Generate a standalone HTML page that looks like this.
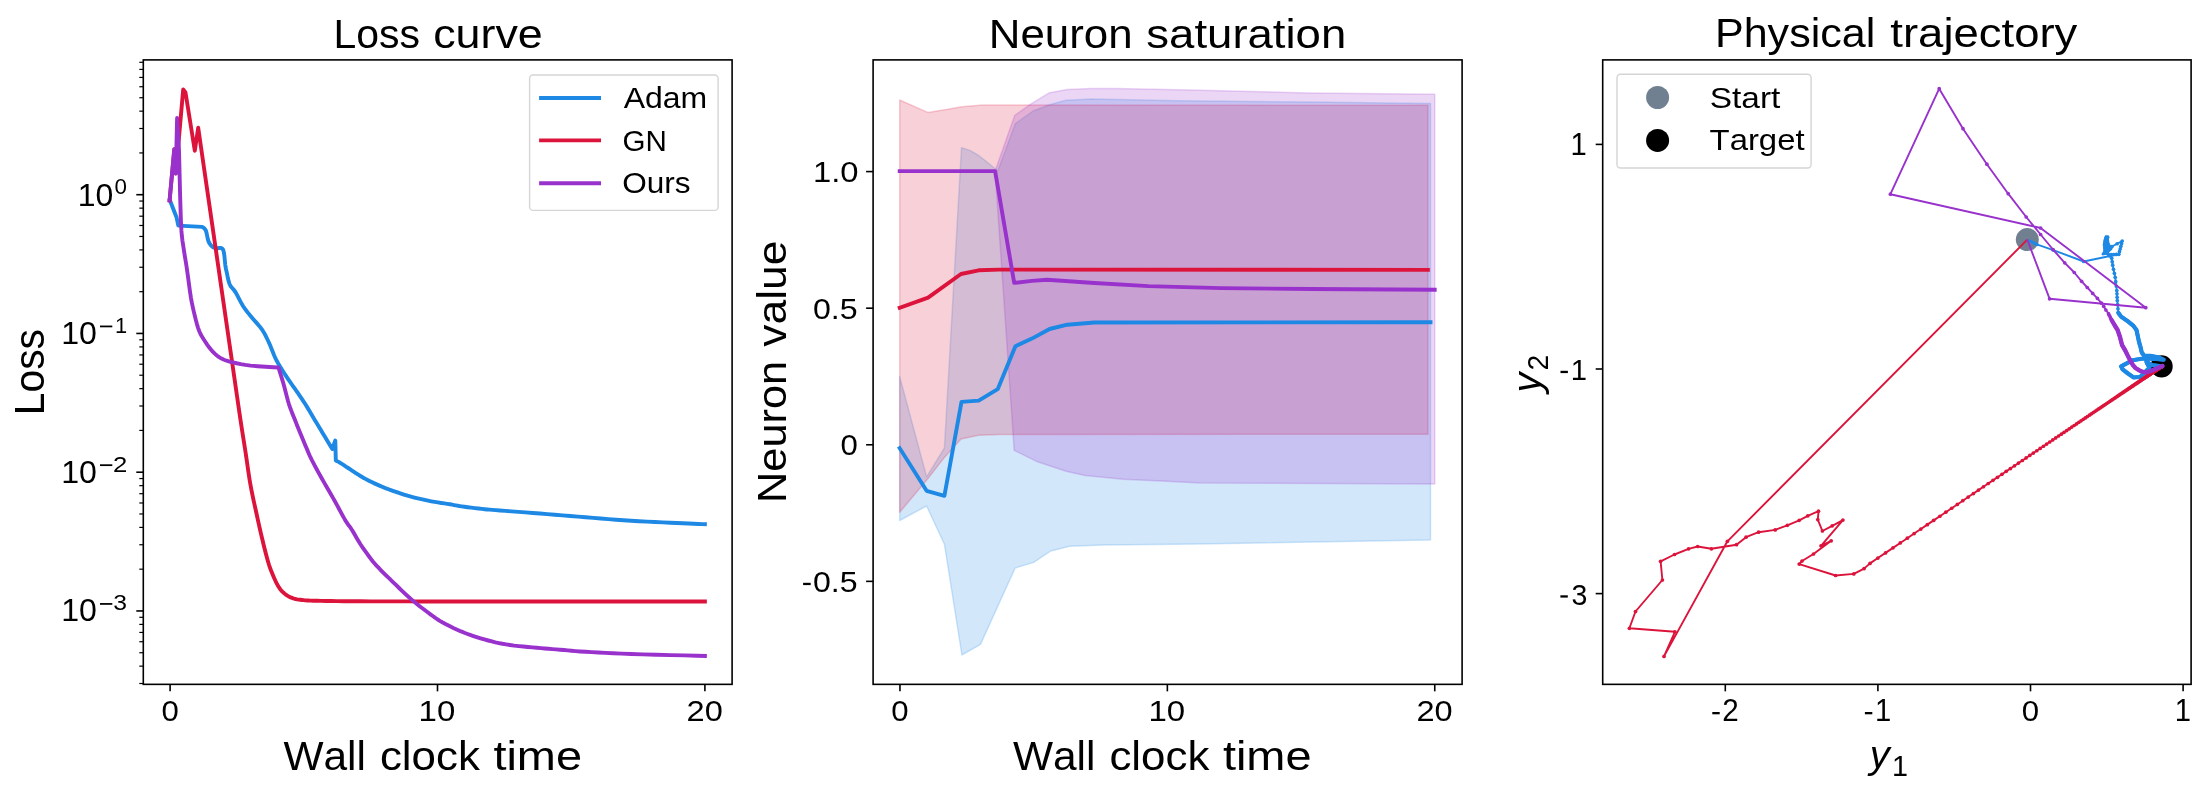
<!DOCTYPE html>
<html><head><meta charset="utf-8"><title>Figure</title>
<style>html,body{margin:0;padding:0;background:#fff;}svg{display:block;will-change:transform;}text{font-kerning:none;font-family:"Liberation Sans",sans-serif;}</style>
</head><body>
<svg width="2212" height="790" viewBox="0 0 2212 790" font-family="Liberation Sans, sans-serif">
<rect width="2212" height="790" fill="#fff"/>
<clipPath id="c1"><rect x="143.3" y="59.9" width="588.8" height="624.45"/></clipPath>
<g clip-path="url(#c1)">
<polyline points="169.9,200.3 176.5,217.2 178.3,225.6 202.2,226.9 202.87,227.36 203.84,227.98 204.89,228.94 205.8,230.4 206.5,232.7 207.1,235.64 207.7,238.64 208.4,241.1 209.21,242.89 210.09,244.31 211.02,245.45 212,246.4 213.02,247.14 214.09,247.63 215.22,247.96 216.4,248.2 217.73,248.22 219.19,248.04 220.57,247.93 221.7,248.2 222.49,248.8 223.04,249.62 223.48,250.83 223.9,252.6 224.31,255.27 224.66,258.65 224.98,262.11 225.3,265 225.59,266.96 225.84,268.39 226.15,269.82 226.6,271.8 227.19,274.66 227.88,278.05 228.7,281.47 229.7,284.4 230.9,286.5 232.27,288.11 233.78,289.77 235.4,292 237.17,295.14 239.08,298.85 241.06,302.63 243,306 244.81,308.7 246.56,311.03 248.43,313.35 250.6,316 253.3,319.16 256.38,322.62 259.41,326.15 262,329.5 264.01,332.68 265.67,335.79 267.1,338.75 268.4,341.5 269.53,343.93 270.44,346.1 271.29,348.2 272.2,350.4 273.12,352.68 274.01,354.96 275.02,357.37 276.3,360 277.95,362.99 279.88,366.24 281.92,369.55 283.9,372.7 285.83,375.68 287.78,378.59 289.69,381.38 291.5,384 293.14,386.34 294.65,388.44 296.16,390.56 297.8,392.9 299.61,395.54 301.52,398.36 303.47,401.3 305.4,404.3 307.3,407.39 309.2,410.58 311.1,413.8 313,417 314.9,420.15 316.8,423.3 318.7,426.45 320.6,429.6 322.58,432.91 324.62,436.32 326.55,439.54 328.2,442.3 329.57,444.55 330.72,446.44 331.65,447.94 332.3,449 335.3,440.5 335.8,460.5 336.2,460.7 336.7,460.94 337.31,461.24 338.07,461.63 338.99,462.14 340.1,462.8 341.46,463.65 343.07,464.68 344.84,465.83 346.69,467.04 348.54,468.25 350.3,469.4 351.99,470.51 353.67,471.64 355.36,472.77 357.04,473.88 358.72,474.96 360.4,476 362.08,476.99 363.77,477.95 365.45,478.87 367.13,479.77 368.82,480.65 370.5,481.5 372.18,482.33 373.86,483.12 375.54,483.89 377.23,484.64 378.91,485.38 380.6,486.1 382.18,486.77 383.62,487.38 385.07,487.98 386.66,488.6 388.52,489.29 390.8,490.1 393.59,491.07 396.79,492.18 400.27,493.36 403.89,494.55 407.51,495.69 411,496.7 414.4,497.6 417.82,498.44 421.24,499.22 424.65,499.96 428.01,500.65 431.3,501.3 434.59,501.9 437.92,502.45 441.2,502.96 444.36,503.43 447.32,503.87 450,504.3 452.23,504.7 454.04,505.05 455.65,505.38 457.28,505.7 459.16,506.04 461.5,506.4 464.4,506.8 467.69,507.24 471.23,507.68 474.86,508.12 478.44,508.53 481.8,508.9 484.7,509.2 487.21,509.45 489.67,509.67 492.4,509.9 495.73,510.16 500,510.5 505.34,510.91 511.51,511.37 518.29,511.86 525.44,512.39 532.76,512.94 540,513.5 547.28,514.09 554.79,514.72 562.46,515.37 570.2,516.03 577.94,516.67 585.6,517.3 593.19,517.92 600.77,518.54 608.35,519.15 615.93,519.74 623.51,520.3 631.1,520.8 638.9,521.25 646.94,521.67 654.98,522.04 662.79,522.39 670.11,522.71 676.7,523 682.73,523.27 688.43,523.52 693.65,523.74 698.23,523.93 702.03,524.08 704.9,524.2" fill="none" stroke="#1E88E5" stroke-width="3.9" stroke-linecap="square" stroke-linejoin="round" />
<polyline points="169.6,200.5 174.3,149.2 175.8,173.5 183.2,89.5 185.5,92.5 194.8,150.8 198.2,127.8 234.7,380 235.34,384.44 236.23,390.67 237.29,398 238.41,405.78 239.51,413.33 240.5,420 241.38,425.78 242.23,431.22 243.05,436.44 243.86,441.56 244.68,446.7 245.5,452 246.32,457.49 247.13,463.07 247.93,468.69 248.75,474.26 249.6,479.72 250.5,485 251.46,490.12 252.48,495.15 253.53,500.06 254.58,504.85 255.61,509.5 256.6,514 257.53,518.3 258.43,522.39 259.31,526.34 260.18,530.22 261.07,534.09 262,538 262.97,542.04 263.97,546.19 264.99,550.31 266.01,554.31 267.02,558.08 268,561.5 268.94,564.53 269.86,567.26 270.76,569.75 271.66,572.07 272.57,574.3 273.5,576.5 274.46,578.68 275.43,580.79 276.41,582.79 277.4,584.68 278.4,586.42 279.4,588 280.39,589.38 281.38,590.57 282.37,591.62 283.38,592.57 284.42,593.45 285.5,594.3 286.61,595.11 287.74,595.86 288.9,596.53 290.1,597.14 291.37,597.7 292.7,598.2 294.1,598.63 295.56,599 297.08,599.3 298.66,599.56 300.3,599.79 302,600 303.57,600.18 304.97,600.32 306.43,600.43 308.19,600.52 310.46,600.61 313.5,600.7 317.18,600.8 321.28,600.89 325.91,600.98 331.16,601.06 337.13,601.14 343.9,601.2 351.83,601.25 360.92,601.29 370.72,601.33 380.8,601.35 390.71,601.38 400,601.4 409.27,601.42 418.97,601.44 428.51,601.46 437.26,601.48 444.63,601.49 450,601.5 704.9,601.5" fill="none" stroke="#DC143C" stroke-width="3.9" stroke-linecap="square" stroke-linejoin="round" />
<polyline points="169.6,200.3 174.3,149.2 175.8,173.5 177.1,118 179,150 180.1,195 180.31,201.77 180.61,211.59 180.98,221.96 181.4,230.4 181.88,236.11 182.41,240.46 182.99,244.23 183.6,248.2 184.27,252.62 184.99,257.07 185.7,261.28 186.3,265 186.72,267.74 187.02,269.77 187.33,272 187.8,275.3 188.47,280.24 189.26,286.24 190.12,292.47 191,298.1 191.89,302.94 192.83,307.43 193.79,311.67 194.8,315.8 195.82,319.89 196.87,323.85 197.98,327.59 199.2,331 200.53,333.96 201.95,336.57 203.47,339.01 205.1,341.5 206.85,344.13 208.72,346.77 210.68,349.3 212.7,351.6 214.75,353.64 216.86,355.49 219.09,357.15 221.5,358.6 224.02,359.79 226.64,360.74 229.55,361.57 232.9,362.4 236.64,363.27 240.72,364.12 245.31,364.91 250.6,365.6 257.51,366.21 265.66,366.75 273.25,367.19 278.5,367.5 279.09,369.42 279.91,372.07 280.88,375.21 281.92,378.62 282.95,382.06 283.9,385.3 284.75,388.43 285.58,391.64 286.39,394.88 287.22,398.11 288.08,401.26 289,404.3 289.99,407.24 291.06,410.13 292.15,412.95 293.24,415.68 294.31,418.3 295.3,420.8 296.21,423.1 297.04,425.19 297.85,427.18 298.66,429.15 299.49,431.19 300.4,433.4 301.39,435.83 302.46,438.41 303.55,441.07 304.64,443.72 305.71,446.26 306.7,448.6 307.56,450.63 308.3,452.4 309,454.06 309.76,455.78 310.66,457.7 311.8,460 313.18,462.68 314.74,465.62 316.44,468.77 318.26,472.09 320.16,475.51 322.1,479 324.17,482.66 326.41,486.55 328.73,490.56 331.04,494.55 333.26,498.4 335.3,502 337.18,505.4 338.96,508.7 340.65,511.87 342.25,514.86 343.77,517.61 345.2,520.1 346.5,522.18 347.64,523.86 348.7,525.31 349.74,526.7 350.82,528.21 352,530 353.3,532.13 354.68,534.47 356.09,536.93 357.52,539.4 358.93,541.79 360.3,544 361.61,546.01 362.88,547.9 364.14,549.71 365.4,551.47 366.68,553.22 368,555 369.28,556.73 370.49,558.36 371.72,559.98 373.07,561.67 374.63,563.51 376.5,565.6 378.73,567.96 381.24,570.53 383.96,573.26 386.83,576.09 389.77,578.95 392.7,581.8 395.7,584.7 398.83,587.73 402.02,590.79 405.23,593.81 408.38,596.71 411.4,599.4 414.31,601.88 417.16,604.21 419.95,606.43 422.69,608.53 425.37,610.55 428,612.5 430.47,614.34 432.76,616.04 434.99,617.66 437.31,619.24 439.83,620.84 442.7,622.5 445.97,624.26 449.54,626.07 453.32,627.91 457.22,629.7 461.14,631.42 465,633 468.83,634.46 472.72,635.83 476.63,637.12 480.54,638.33 484.4,639.46 488.2,640.5 491.86,641.44 495.39,642.29 498.88,643.04 502.41,643.74 506.09,644.38 510,645 514.22,645.58 518.7,646.09 523.31,646.56 527.95,647 532.48,647.41 536.8,647.8 540.85,648.17 544.71,648.49 548.47,648.79 552.22,649.09 556.04,649.38 560,649.7 563.9,650.04 567.62,650.38 571.41,650.73 575.5,651.09 580.15,651.44 585.6,651.8 591.7,652.16 598.24,652.54 605.34,652.91 613.1,653.29 621.65,653.65 631.1,654 642.62,654.36 656.34,654.73 670.84,655.09 684.72,655.42 696.54,655.7 704.9,655.9" fill="none" stroke="#9932CC" stroke-width="3.9" stroke-linecap="square" stroke-linejoin="round" />
</g>
<rect x="143.3" y="59.9" width="588.8" height="624.45" fill="none" stroke="#000" stroke-width="1.6" stroke-linejoin="miter"/>
<line x1="170.1" y1="684.35" x2="170.1" y2="691.35" stroke="#000" stroke-width="1.6"/>
<text transform="translate(161.43,720.71) scale(1.0361,1)" font-size="30.084" style="" fill="#000">0</text>
<line x1="437.5" y1="684.35" x2="437.5" y2="691.35" stroke="#000" stroke-width="1.6"/>
<text transform="translate(418.54,720.71) scale(1.0968,1)" font-size="30.084" style="" fill="#000">10</text>
<line x1="704.9" y1="684.35" x2="704.9" y2="691.35" stroke="#000" stroke-width="1.6"/>
<text transform="translate(686.61,720.71) scale(1.0821,1)" font-size="30.084" style="" fill="#000">20</text>
<line x1="136.3" y1="194.7" x2="143.3" y2="194.7" stroke="#000" stroke-width="1.6"/>
<line x1="136.3" y1="333.45" x2="143.3" y2="333.45" stroke="#000" stroke-width="1.6"/>
<line x1="136.3" y1="472.2" x2="143.3" y2="472.2" stroke="#000" stroke-width="1.6"/>
<line x1="136.3" y1="610.95" x2="143.3" y2="610.95" stroke="#000" stroke-width="1.6"/>
<line x1="139.3" y1="683.5" x2="143.3" y2="683.5" stroke="#000" stroke-width="1.2"/>
<line x1="139.3" y1="666.16" x2="143.3" y2="666.16" stroke="#000" stroke-width="1.2"/>
<line x1="139.3" y1="652.72" x2="143.3" y2="652.72" stroke="#000" stroke-width="1.2"/>
<line x1="139.3" y1="641.73" x2="143.3" y2="641.73" stroke="#000" stroke-width="1.2"/>
<line x1="139.3" y1="632.44" x2="143.3" y2="632.44" stroke="#000" stroke-width="1.2"/>
<line x1="139.3" y1="624.4" x2="143.3" y2="624.4" stroke="#000" stroke-width="1.2"/>
<line x1="139.3" y1="617.3" x2="143.3" y2="617.3" stroke="#000" stroke-width="1.2"/>
<line x1="139.3" y1="569.18" x2="143.3" y2="569.18" stroke="#000" stroke-width="1.2"/>
<line x1="139.3" y1="544.75" x2="143.3" y2="544.75" stroke="#000" stroke-width="1.2"/>
<line x1="139.3" y1="527.41" x2="143.3" y2="527.41" stroke="#000" stroke-width="1.2"/>
<line x1="139.3" y1="513.97" x2="143.3" y2="513.97" stroke="#000" stroke-width="1.2"/>
<line x1="139.3" y1="502.98" x2="143.3" y2="502.98" stroke="#000" stroke-width="1.2"/>
<line x1="139.3" y1="493.69" x2="143.3" y2="493.69" stroke="#000" stroke-width="1.2"/>
<line x1="139.3" y1="485.65" x2="143.3" y2="485.65" stroke="#000" stroke-width="1.2"/>
<line x1="139.3" y1="478.55" x2="143.3" y2="478.55" stroke="#000" stroke-width="1.2"/>
<line x1="139.3" y1="430.43" x2="143.3" y2="430.43" stroke="#000" stroke-width="1.2"/>
<line x1="139.3" y1="406" x2="143.3" y2="406" stroke="#000" stroke-width="1.2"/>
<line x1="139.3" y1="388.66" x2="143.3" y2="388.66" stroke="#000" stroke-width="1.2"/>
<line x1="139.3" y1="375.22" x2="143.3" y2="375.22" stroke="#000" stroke-width="1.2"/>
<line x1="139.3" y1="364.23" x2="143.3" y2="364.23" stroke="#000" stroke-width="1.2"/>
<line x1="139.3" y1="354.94" x2="143.3" y2="354.94" stroke="#000" stroke-width="1.2"/>
<line x1="139.3" y1="346.9" x2="143.3" y2="346.9" stroke="#000" stroke-width="1.2"/>
<line x1="139.3" y1="339.8" x2="143.3" y2="339.8" stroke="#000" stroke-width="1.2"/>
<line x1="139.3" y1="291.68" x2="143.3" y2="291.68" stroke="#000" stroke-width="1.2"/>
<line x1="139.3" y1="267.25" x2="143.3" y2="267.25" stroke="#000" stroke-width="1.2"/>
<line x1="139.3" y1="249.91" x2="143.3" y2="249.91" stroke="#000" stroke-width="1.2"/>
<line x1="139.3" y1="236.47" x2="143.3" y2="236.47" stroke="#000" stroke-width="1.2"/>
<line x1="139.3" y1="225.48" x2="143.3" y2="225.48" stroke="#000" stroke-width="1.2"/>
<line x1="139.3" y1="216.19" x2="143.3" y2="216.19" stroke="#000" stroke-width="1.2"/>
<line x1="139.3" y1="208.15" x2="143.3" y2="208.15" stroke="#000" stroke-width="1.2"/>
<line x1="139.3" y1="201.05" x2="143.3" y2="201.05" stroke="#000" stroke-width="1.2"/>
<line x1="139.3" y1="152.93" x2="143.3" y2="152.93" stroke="#000" stroke-width="1.2"/>
<line x1="139.3" y1="128.5" x2="143.3" y2="128.5" stroke="#000" stroke-width="1.2"/>
<line x1="139.3" y1="111.16" x2="143.3" y2="111.16" stroke="#000" stroke-width="1.2"/>
<line x1="139.3" y1="97.72" x2="143.3" y2="97.72" stroke="#000" stroke-width="1.2"/>
<line x1="139.3" y1="86.73" x2="143.3" y2="86.73" stroke="#000" stroke-width="1.2"/>
<line x1="139.3" y1="77.44" x2="143.3" y2="77.44" stroke="#000" stroke-width="1.2"/>
<line x1="139.3" y1="69.4" x2="143.3" y2="69.4" stroke="#000" stroke-width="1.2"/>
<line x1="139.3" y1="62.3" x2="143.3" y2="62.3" stroke="#000" stroke-width="1.2"/>
<text transform="translate(77.66,205.6) scale(1.0391,1)" font-size="30.791" style="" fill="#000">10</text>
<text transform="translate(114.53,194.49) scale(1.0291,1)" font-size="21.751" style="" fill="#000">0</text>
<text transform="translate(61.16,343.95) scale(1.0520,1)" font-size="30.508" style="" fill="#000">10</text>
<rect x="100" y="325.55" width="12.3" height="1.75" fill="#000"/>
<text transform="translate(114.94,333.15) scale(0.9868,1)" font-size="22.093" style="" fill="#000">1</text>
<text transform="translate(61.16,482.7) scale(1.0520,1)" font-size="30.508" style="" fill="#000">10</text>
<rect x="100" y="464.3" width="12.3" height="1.75" fill="#000"/>
<text transform="translate(113.01,471.9) scale(1.1798,1)" font-size="21.769" style="" fill="#000">2</text>
<text transform="translate(61.16,621.45) scale(1.0520,1)" font-size="30.508" style="" fill="#000">10</text>
<rect x="100" y="603.05" width="12.3" height="1.75" fill="#000"/>
<text transform="translate(113.36,610.44) scale(1.1495,1)" font-size="21.469" style="" fill="#000">3</text>
<text transform="translate(333.44,47.6) scale(0.9961,1)" font-size="41.132">Loss</text>
<text transform="translate(433.2,47.6) scale(1.0896,1)" font-size="41.132">curve</text>
<text transform="translate(283.41,770.3) scale(1.0355,1)" font-size="40.987">Wall</text>
<text transform="translate(379.94,770.3) scale(1.0698,1)" font-size="40.987">clock</text>
<text transform="translate(493.39,770.3) scale(1.1455,1)" font-size="40.987">time</text>
<text transform="translate(44.39,415.14) rotate(-90) scale(0.9610,1)" font-size="42.422" style="">Loss</text>
<rect x="529.6" y="75.0" width="188.5" height="135.4" rx="3.5" fill="#fff" fill-opacity="0.8" stroke="#d5d5d5" stroke-width="1.4"/>
<line x1="539.1" y1="98" x2="601" y2="98" stroke="#1E88E5" stroke-width="3.9"/>
<line x1="539.1" y1="140.4" x2="601" y2="140.4" stroke="#DC143C" stroke-width="3.9"/>
<line x1="539.1" y1="183.3" x2="601" y2="183.3" stroke="#9932CC" stroke-width="3.9"/>
<text transform="translate(623.64,108.41) scale(1.0827,1)" font-size="29.549" style="" fill="#000">Adam</text>
<text transform="translate(622.41,150.91) scale(0.9886,1)" font-size="29.943" style="" fill="#000">GN</text>
<text transform="translate(622.2,193.21) scale(1.0699,1)" font-size="29.519" style="" fill="#000">Ours</text>
<clipPath id="c2"><rect x="873.1" y="59.9" width="588.9999999999999" height="624.45"/></clipPath>
<g clip-path="url(#c2)">
<polygon points="899.7,376.6 926.6,476.8 944.4,448 961.5,147.6 970.4,150.6 978.7,155.5 988.6,163.3 997.7,171 1015.3,123.7 1033,111 1049.5,104.7 1066,100.3 1091.3,99 1180,100.8 1309,102 1430.5,103.5 1430.5,540.1 1200,544 1103.9,544.9 1069.7,546.3 1050.8,551 1033.7,562.4 1015.1,568.1 980.5,644.4 961.9,655 944.4,544.2 926.6,506 899.7,520.5" fill="#1E88E5" fill-opacity="0.2" stroke="#1E88E5" stroke-opacity="0.2" stroke-width="1.5" stroke-linejoin="round"/>
<polygon points="899.7,100 927.8,112.4 946.1,109.6 962,106.7 982.5,105.1 1428,105.3 1428,434.3 999,434.5 978.7,435.3 961,439 944.4,457.4 928,478.5 899.7,512.3" fill="#DC143C" fill-opacity="0.2" stroke="#DC143C" stroke-opacity="0.2" stroke-width="1.5" stroke-linejoin="round"/>
<polygon points="995.1,171.1 1014.7,115.4 1031.8,103.4 1049.5,92.7 1067.2,89.5 1091.3,88.6 1116.6,88.6 1190,90.1 1309.3,92.9 1434.8,94.3 1434.8,484.1 1200,482.9 1160.9,481.1 1122.9,479.2 1085,475.4 1066,471.3 1037.5,461.8 1014.2,450.4" fill="#9932CC" fill-opacity="0.2" stroke="#9932CC" stroke-opacity="0.2" stroke-width="1.5" stroke-linejoin="round"/>
<polyline points="899.7,448.2 926.6,490.8 944.4,495.8 961.5,401.9 978.7,400.6 997.7,389.2 1015.4,346.2 1031.9,338.6 1049.6,329 1067.3,324.7 1094.2,322.5 1430.5,322.2" fill="none" stroke="#1E88E5" stroke-width="3.9" stroke-linecap="square" stroke-linejoin="round" />
<polyline points="899.7,307.8 928.1,297.6 961,274 978.7,270.3 999,269.6 1427.9,269.9" fill="none" stroke="#DC143C" stroke-width="3.9" stroke-linecap="square" stroke-linejoin="round" />
<polyline points="899.7,171.1 995.1,171.1 1014.2,282.9 1031.9,280.9 1047.1,279.7 1094.2,283 1148.5,286.1 1220.8,288.1 1311.2,289 1434.7,289.7" fill="none" stroke="#9932CC" stroke-width="3.9" stroke-linecap="square" stroke-linejoin="round" />
</g>
<rect x="873.1" y="59.9" width="589" height="624.45" fill="none" stroke="#000" stroke-width="1.6" stroke-linejoin="miter"/>
<line x1="899.95" y1="684.35" x2="899.95" y2="691.35" stroke="#000" stroke-width="1.6"/>
<text transform="translate(891.28,720.71) scale(1.0361,1)" font-size="30.084" style="" fill="#000">0</text>
<line x1="1167.35" y1="684.35" x2="1167.35" y2="691.35" stroke="#000" stroke-width="1.6"/>
<text transform="translate(1148.39,720.71) scale(1.0968,1)" font-size="30.084" style="" fill="#000">10</text>
<line x1="1434.75" y1="684.35" x2="1434.75" y2="691.35" stroke="#000" stroke-width="1.6"/>
<text transform="translate(1416.46,720.71) scale(1.0821,1)" font-size="30.084" style="" fill="#000">20</text>
<line x1="866.1" y1="171.59" x2="873.1" y2="171.59" stroke="#000" stroke-width="1.6"/>
<line x1="866.1" y1="308.18" x2="873.1" y2="308.18" stroke="#000" stroke-width="1.6"/>
<line x1="866.1" y1="444.77" x2="873.1" y2="444.77" stroke="#000" stroke-width="1.6"/>
<line x1="866.1" y1="581.36" x2="873.1" y2="581.36" stroke="#000" stroke-width="1.6"/>
<text transform="translate(813,182) scale(1.0797,1)" font-size="30.367" style="" fill="#000">1.0</text>
<text transform="translate(812.95,318.61) scale(1.0715,1)" font-size="29.943" style="" fill="#000">0.5</text>
<text transform="translate(840.58,455.41) scale(1.0361,1)" font-size="30.084" style="" fill="#000">0</text>
<text transform="translate(812.95,591.6) scale(1.0565,1)" font-size="30.367" style="" fill="#000">0.5</text>
<rect x="803.1" y="582.8" width="7.6" height="2.3" fill="#000"/>
<text transform="translate(988.8,47.5) scale(1.0736,1)" font-size="40.851">Neuron</text>
<text transform="translate(1146.33,47.5) scale(1.1144,1)" font-size="40.851">saturation</text>
<text transform="translate(1012.91,770.3) scale(1.0355,1)" font-size="40.987">Wall</text>
<text transform="translate(1109.44,770.3) scale(1.0698,1)" font-size="40.987">clock</text>
<text transform="translate(1222.89,770.3) scale(1.1455,1)" font-size="40.987">time</text>
<text transform="translate(785.7,502.96) rotate(-90) scale(1.0576,1)" font-size="40.987">Neuron</text>
<text transform="translate(785.7,346.65) rotate(-90) scale(1.0820,1)" font-size="40.987">value</text>
<clipPath id="c3"><rect x="1602.7" y="59.9" width="588.3999999999999" height="624.45"/></clipPath>
<g clip-path="url(#c3)">
<circle cx="2027.3" cy="239.6" r="11.5" fill="#708090"/>
<circle cx="2161.6" cy="366.4" r="11.1" fill="#000"/>
<polyline points="2027.3,239.6 2031,241.5 2034,243 2036.8,244.4 2053.3,250.1 2083.7,261.5 2110,256 2108.67,254.67 2107.33,253.33 2106,252 2105.62,250.25 2105.25,248.5 2104.88,246.75 2104.5,245 2104.88,243.25 2105.25,241.5 2105.62,239.75 2106,238 2106.67,240 2107.33,242 2108,244 2109.25,246 2110.5,248 2112,246.5 2117.1,243.75 2122.2,241 2121.52,243.66 2120.84,246.32 2120.16,248.98 2119.48,251.64 2118.8,254.3 2116.27,254.43 2113.73,254.57 2111.2,254.7 2111.7,258.2 2112.2,261.7 2112.7,265.2 2113.53,269.23 2114.37,273.27 2115.2,277.3 2115.73,281.7 2116.27,286.1 2116.8,290.5 2116.97,293.87 2117.13,297.23 2117.3,300.6 2117.63,304.67 2117.97,308.73 2118.3,312.8 2119.3,314.13 2120.3,315.47 2121.3,316.8 2122.52,317.62 2123.74,318.44 2124.96,319.26 2126.18,320.08 2127.4,320.9 2128.62,321.9 2129.84,322.9 2131.06,323.9 2132.28,324.9 2133.5,325.9 2134.5,327.27 2135.5,328.63 2136.5,330 2136.8,331.43 2137.1,332.85 2137.4,334.27 2137.7,335.7 2138,337.12 2138.3,338.55 2138.6,339.97 2138.9,341.4 2139.3,342.8 2139.7,344.2 2140.1,345.6 2140.5,347 2140.82,348.4 2141.15,349.8 2141.48,351.2 2141.8,352.6 2142.67,353.7 2143.53,354.8 2144.4,355.9 2145.9,355.9 2147.4,355.9 2148.9,355.9 2150.4,355.9 2151.92,356.16 2153.44,356.42 2154.96,356.68 2156.48,356.94 2158,357.2 2159.4,357.82 2160.8,358.45 2162.2,359.07 2163.6,359.7 2162.08,359.56 2160.56,359.42 2159.04,359.28 2157.52,359.14 2156,359 2154.56,358.94 2153.11,358.89 2151.67,358.83 2150.22,358.78 2148.78,358.72 2147.33,358.67 2145.89,358.61 2144.44,358.56 2143,358.5 2141.53,358.74 2140.06,358.99 2138.59,359.23 2137.11,359.47 2135.64,359.71 2134.17,359.96 2132.7,360.2 2131.41,360.88 2130.12,361.56 2128.83,362.23 2127.54,362.91 2126.26,363.59 2124.97,364.27 2123.68,364.94 2122.39,365.62 2121.1,366.3 2121.85,367.8 2122.6,369.3 2123.68,370.14 2124.76,370.98 2125.84,371.82 2126.92,372.66 2128,373.5 2129.14,374.28 2130.28,375.06 2131.42,375.84 2132.56,376.62 2133.7,377.4 2135.27,377.3 2136.85,377.2 2138.43,377.1 2140,377 2141.04,375.98 2142.09,374.96 2143.13,373.93 2144.18,372.91 2145.22,371.89 2146.27,370.87 2147.31,369.84 2148.36,368.82 2149.4,367.8 2148.8,366.58 2148.2,365.36 2147.6,364.14 2147,362.92 2146.4,361.7 2147.8,362.52 2149.2,363.35 2150.6,364.18 2152,365 2153.6,365.23 2155.2,365.47 2156.8,365.7 2158.4,365.93 2160,366.17 2161.6,366.4" fill="none" stroke="#1E88E5" stroke-width="1.9" stroke-linecap="butt" stroke-linejoin="round" />
<g fill="#1E88E5"><circle cx="2031" cy="241.5" r="1.85"/><circle cx="2034" cy="243" r="1.85"/><circle cx="2036.8" cy="244.4" r="1.85"/><circle cx="2053.3" cy="250.1" r="1.85"/><circle cx="2083.7" cy="261.5" r="1.85"/><circle cx="2110" cy="256" r="1.85"/><circle cx="2108.67" cy="254.67" r="1.85"/><circle cx="2107.33" cy="253.33" r="1.85"/><circle cx="2106" cy="252" r="1.85"/><circle cx="2105.62" cy="250.25" r="1.85"/><circle cx="2105.25" cy="248.5" r="1.85"/><circle cx="2104.88" cy="246.75" r="1.85"/><circle cx="2104.5" cy="245" r="1.85"/><circle cx="2104.88" cy="243.25" r="1.85"/><circle cx="2105.25" cy="241.5" r="1.85"/><circle cx="2105.62" cy="239.75" r="1.85"/><circle cx="2106" cy="238" r="1.85"/><circle cx="2106.67" cy="240" r="1.85"/><circle cx="2107.33" cy="242" r="1.85"/><circle cx="2108" cy="244" r="1.85"/><circle cx="2109.25" cy="246" r="1.85"/><circle cx="2110.5" cy="248" r="1.85"/><circle cx="2112" cy="246.5" r="1.85"/><circle cx="2117.1" cy="243.75" r="1.85"/><circle cx="2122.2" cy="241" r="1.85"/><circle cx="2121.52" cy="243.66" r="1.85"/><circle cx="2120.84" cy="246.32" r="1.85"/><circle cx="2120.16" cy="248.98" r="1.85"/><circle cx="2119.48" cy="251.64" r="1.85"/><circle cx="2118.8" cy="254.3" r="1.85"/><circle cx="2116.27" cy="254.43" r="1.85"/><circle cx="2113.73" cy="254.57" r="1.85"/><circle cx="2111.2" cy="254.7" r="1.85"/><circle cx="2111.7" cy="258.2" r="1.85"/><circle cx="2112.2" cy="261.7" r="1.85"/><circle cx="2112.7" cy="265.2" r="1.85"/><circle cx="2113.53" cy="269.23" r="1.85"/><circle cx="2114.37" cy="273.27" r="1.85"/><circle cx="2115.2" cy="277.3" r="1.85"/><circle cx="2115.73" cy="281.7" r="1.85"/><circle cx="2116.27" cy="286.1" r="1.85"/><circle cx="2116.8" cy="290.5" r="1.85"/><circle cx="2116.97" cy="293.87" r="1.85"/><circle cx="2117.13" cy="297.23" r="1.85"/><circle cx="2117.3" cy="300.6" r="1.85"/><circle cx="2117.63" cy="304.67" r="1.85"/><circle cx="2117.97" cy="308.73" r="1.85"/><circle cx="2118.3" cy="312.8" r="1.85"/><circle cx="2119.3" cy="314.13" r="1.85"/><circle cx="2120.3" cy="315.47" r="1.85"/><circle cx="2121.3" cy="316.8" r="1.85"/><circle cx="2122.52" cy="317.62" r="1.85"/><circle cx="2123.74" cy="318.44" r="1.85"/><circle cx="2124.96" cy="319.26" r="1.85"/><circle cx="2126.18" cy="320.08" r="1.85"/><circle cx="2127.4" cy="320.9" r="1.85"/><circle cx="2128.62" cy="321.9" r="1.85"/><circle cx="2129.84" cy="322.9" r="1.85"/><circle cx="2131.06" cy="323.9" r="1.85"/><circle cx="2132.28" cy="324.9" r="1.85"/><circle cx="2133.5" cy="325.9" r="1.85"/><circle cx="2134.5" cy="327.27" r="1.85"/><circle cx="2135.5" cy="328.63" r="1.85"/><circle cx="2136.5" cy="330" r="1.85"/><circle cx="2136.8" cy="331.43" r="1.85"/><circle cx="2137.1" cy="332.85" r="1.85"/><circle cx="2137.4" cy="334.27" r="1.85"/><circle cx="2137.7" cy="335.7" r="1.85"/><circle cx="2138" cy="337.12" r="1.85"/><circle cx="2138.3" cy="338.55" r="1.85"/><circle cx="2138.6" cy="339.97" r="1.85"/><circle cx="2138.9" cy="341.4" r="1.85"/><circle cx="2139.3" cy="342.8" r="1.85"/><circle cx="2139.7" cy="344.2" r="1.85"/><circle cx="2140.1" cy="345.6" r="1.85"/><circle cx="2140.5" cy="347" r="1.85"/><circle cx="2140.82" cy="348.4" r="1.85"/><circle cx="2141.15" cy="349.8" r="1.85"/><circle cx="2141.48" cy="351.2" r="1.85"/><circle cx="2141.8" cy="352.6" r="1.85"/><circle cx="2142.67" cy="353.7" r="1.85"/><circle cx="2143.53" cy="354.8" r="1.85"/><circle cx="2144.4" cy="355.9" r="1.85"/><circle cx="2145.9" cy="355.9" r="1.85"/><circle cx="2147.4" cy="355.9" r="1.85"/><circle cx="2148.9" cy="355.9" r="1.85"/><circle cx="2150.4" cy="355.9" r="1.85"/><circle cx="2151.92" cy="356.16" r="1.85"/><circle cx="2153.44" cy="356.42" r="1.85"/><circle cx="2154.96" cy="356.68" r="1.85"/><circle cx="2156.48" cy="356.94" r="1.85"/><circle cx="2158" cy="357.2" r="1.85"/><circle cx="2159.4" cy="357.82" r="1.85"/><circle cx="2160.8" cy="358.45" r="1.85"/><circle cx="2162.2" cy="359.07" r="1.85"/><circle cx="2163.6" cy="359.7" r="1.85"/><circle cx="2162.08" cy="359.56" r="1.85"/><circle cx="2160.56" cy="359.42" r="1.85"/><circle cx="2159.04" cy="359.28" r="1.85"/><circle cx="2157.52" cy="359.14" r="1.85"/><circle cx="2156" cy="359" r="1.85"/><circle cx="2154.56" cy="358.94" r="1.85"/><circle cx="2153.11" cy="358.89" r="1.85"/><circle cx="2151.67" cy="358.83" r="1.85"/><circle cx="2150.22" cy="358.78" r="1.85"/><circle cx="2148.78" cy="358.72" r="1.85"/><circle cx="2147.33" cy="358.67" r="1.85"/><circle cx="2145.89" cy="358.61" r="1.85"/><circle cx="2144.44" cy="358.56" r="1.85"/><circle cx="2143" cy="358.5" r="1.85"/><circle cx="2141.53" cy="358.74" r="1.85"/><circle cx="2140.06" cy="358.99" r="1.85"/><circle cx="2138.59" cy="359.23" r="1.85"/><circle cx="2137.11" cy="359.47" r="1.85"/><circle cx="2135.64" cy="359.71" r="1.85"/><circle cx="2134.17" cy="359.96" r="1.85"/><circle cx="2132.7" cy="360.2" r="1.85"/><circle cx="2131.41" cy="360.88" r="1.85"/><circle cx="2130.12" cy="361.56" r="1.85"/><circle cx="2128.83" cy="362.23" r="1.85"/><circle cx="2127.54" cy="362.91" r="1.85"/><circle cx="2126.26" cy="363.59" r="1.85"/><circle cx="2124.97" cy="364.27" r="1.85"/><circle cx="2123.68" cy="364.94" r="1.85"/><circle cx="2122.39" cy="365.62" r="1.85"/><circle cx="2121.1" cy="366.3" r="1.85"/><circle cx="2121.85" cy="367.8" r="1.85"/><circle cx="2122.6" cy="369.3" r="1.85"/><circle cx="2123.68" cy="370.14" r="1.85"/><circle cx="2124.76" cy="370.98" r="1.85"/><circle cx="2125.84" cy="371.82" r="1.85"/><circle cx="2126.92" cy="372.66" r="1.85"/><circle cx="2128" cy="373.5" r="1.85"/><circle cx="2129.14" cy="374.28" r="1.85"/><circle cx="2130.28" cy="375.06" r="1.85"/><circle cx="2131.42" cy="375.84" r="1.85"/><circle cx="2132.56" cy="376.62" r="1.85"/><circle cx="2133.7" cy="377.4" r="1.85"/><circle cx="2135.27" cy="377.3" r="1.85"/><circle cx="2136.85" cy="377.2" r="1.85"/><circle cx="2138.43" cy="377.1" r="1.85"/><circle cx="2140" cy="377" r="1.85"/><circle cx="2141.04" cy="375.98" r="1.85"/><circle cx="2142.09" cy="374.96" r="1.85"/><circle cx="2143.13" cy="373.93" r="1.85"/><circle cx="2144.18" cy="372.91" r="1.85"/><circle cx="2145.22" cy="371.89" r="1.85"/><circle cx="2146.27" cy="370.87" r="1.85"/><circle cx="2147.31" cy="369.84" r="1.85"/><circle cx="2148.36" cy="368.82" r="1.85"/><circle cx="2149.4" cy="367.8" r="1.85"/><circle cx="2148.8" cy="366.58" r="1.85"/><circle cx="2148.2" cy="365.36" r="1.85"/><circle cx="2147.6" cy="364.14" r="1.85"/><circle cx="2147" cy="362.92" r="1.85"/><circle cx="2146.4" cy="361.7" r="1.85"/><circle cx="2147.8" cy="362.52" r="1.85"/><circle cx="2149.2" cy="363.35" r="1.85"/><circle cx="2150.6" cy="364.18" r="1.85"/><circle cx="2152" cy="365" r="1.85"/><circle cx="2153.6" cy="365.23" r="1.85"/><circle cx="2155.2" cy="365.47" r="1.85"/><circle cx="2156.8" cy="365.7" r="1.85"/><circle cx="2158.4" cy="365.93" r="1.85"/><circle cx="2160" cy="366.17" r="1.85"/><circle cx="2161.6" cy="366.4" r="1.85"/></g>
<polyline points="2118.3,312.8 2121.3,316.8 2127.4,320.9 2133.5,325.9 2136.5,330 2138.9,341.4 2140.5,347 2141.8,352.6 2144.4,355.9 2150.4,355.9 2158,357.2 2163.6,359.7 2156,359 2143,358.5 2132.7,360.2 2121.1,366.3 2122.6,369.3 2128,373.5 2133.7,377.4 2140,377 2149.4,367.8 2146.4,361.7 2152,365 2161.6,366.4" fill="none" stroke="#1E88E5" stroke-width="4.2" stroke-linecap="round" stroke-linejoin="round" />
<polygon points="2101.3,254.3 2103.2,251.3 2103.4,240.3 2105.1,235.3 2108.5,235.3 2109.7,237.2 2108.9,238.7 2109.7,245.2 2112.7,246 2112.3,249.4 2110.4,251.3 2108.2,253.5 2105.5,255.1 2102.5,255.4" fill="#1E88E5"/>
<polyline points="2027.3,239.6 1727.4,541.3 1664,656.4 1674.9,631.8 1629.4,628.3 1635.5,611.5 1662.4,580 1660.6,561.3 1674.5,554.5 1688.6,548.8 1697.7,546.5 1711.4,548.8 1736.5,544.7 1746,537.2 1758.6,532.2 1775.2,529.9 1787.3,525.3 1799.2,520.3 1807.8,515.8 1818.5,511.2 1817.8,519.6 1822.4,531 1832.2,525.8 1842.9,520.1 1821,545.8 1831.2,540.8 1813.5,554 1802,561 1799.2,564.1 1835.6,575.5 1853.8,573.9 1864.1,568.6 1870,563.4 1877.87,558.08 1885.53,552.91 1892.99,547.87 1900.24,542.97 1907.3,538.2 1914.16,533.56 1920.84,529.05 1927.34,524.66 1933.67,520.39 1939.82,516.23 1945.81,512.18 1951.64,508.25 1957.31,504.42 1962.82,500.69 1968.19,497.06 1973.41,493.54 1978.49,490.1 1983.44,486.76 1988.25,483.51 1992.93,480.35 1997.48,477.28 2001.91,474.28 2006.22,471.37 2010.42,468.53 2014.5,465.78 2018.47,463.09 2022.34,460.48 2026.1,457.94 2029.76,455.47 2033.32,453.07 2036.78,450.73 2040.15,448.45 2043.43,446.23 2046.62,444.08 2049.72,441.98 2052.74,439.94 2055.68,437.96 2058.54,436.02 2061.33,434.14 2064.03,432.31 2066.67,430.53 2069.23,428.8 2071.72,427.12 2074.15,425.48 2076.51,423.88 2078.81,422.33 2081.05,420.82 2083.22,419.35 2085.34,417.92 2087.4,416.53 2089.4,415.18 2091.35,413.86 2093.25,412.58 2095.09,411.33 2096.89,410.12 2098.63,408.94 2100.33,407.79 2101.99,406.67 2103.6,405.59 2105.16,404.53 2106.69,403.5 2108.17,402.5 2109.61,401.52 2111.02,400.57 2112.38,399.65 2113.71,398.75 2115,397.88 2116.26,397.03 2117.49,396.2 2118.68,395.4 2119.84,394.61 2120.96,393.85 2122.06,393.11 2123.13,392.39 2124.17,391.69 2125.18,391.01 2126.16,390.34 2127.12,389.7 2128.05,389.07 2128.96,388.45 2129.84,387.86 2130.69,387.28 2131.53,386.72 2132.34,386.17 2133.13,385.63 2133.9,385.11 2134.65,384.61 2135.37,384.12 2136.08,383.64 2136.77,383.17 2137.44,382.72 2138.09,382.28 2138.73,381.85 2139.35,381.43 2139.95,381.03 2140.53,380.63 2141.1,380.25 2141.65,379.87 2142.19,379.51 2142.72,379.16 2143.23,378.81 2143.72,378.48 2144.21,378.15 2144.68,377.83 2145.13,377.53 2145.58,377.22 2146.01,376.93 2146.43,376.65 2146.84,376.37 2147.24,376.1 2147.63,375.84 2148,375.59 2148.37,375.34 2148.73,375.1 2149.08,374.86 2149.41,374.63 2149.74,374.41 2150.06,374.19 2150.37,373.98 2150.68,373.78 2150.97,373.58 2151.26,373.39 2151.54,373.2 2151.81,373.01 2152.07,372.84 2152.33,372.66 2152.58,372.49 2152.83,372.33 2153.06,372.17 2153.29,372.01 2153.52,371.86 2153.74,371.71 2153.95,371.57 2154.15,371.43 2154.36,371.29 2154.55,371.16 2154.74,371.03 2154.93,370.91 2155.11,370.79 2155.28,370.67 2155.45,370.55 2155.62,370.44 2155.78,370.33 2155.94,370.23 2156.09,370.12 2156.24,370.02 2156.38,369.92 2156.52,369.83 2156.66,369.74 2156.79,369.65 2156.92,369.56 2157.05,369.47 2157.17,369.39 2157.29,369.31 2157.41,369.23 2157.52,369.15 2157.63,369.08 2157.74,369.01 2157.84,368.94 2157.95,368.87 2158.04,368.8 2158.14,368.74 2158.23,368.67 2158.32,368.61 2158.41,368.55 2158.5,368.5 2158.58,368.44 2158.66,368.38 2158.74,368.33 2158.82,368.28 2158.9,368.23 2158.97,368.18 2159.04,368.13 2159.11,368.08 2159.18,368.04 2159.24,367.99 2159.31,367.95 2159.37,367.91 2159.43,367.87 2159.49,367.83 2159.54,367.79 2159.6,367.75 2159.65,367.72 2159.71,367.68 2159.76,367.65 2159.81,367.61 2159.85,367.58 2159.9,367.55 2159.95,367.52 2159.99,367.49 2160.04,367.46 2160.08,367.43 2160.12,367.4 2160.16,367.37 2160.2,367.35 2160.24,367.32 2160.27,367.3 2160.31,367.27 2160.34,367.25 2160.38,367.23 2160.41,367.2 2160.44,367.18 2160.47,367.16 2160.5,367.14 2160.53,367.12 2160.56,367.1 2160.59,367.08 2160.62,367.06 2160.64,367.05 2160.67,367.03 2160.7,367.01 2160.72,366.99 2160.74,366.98 2160.77,366.96 2160.79,366.95 2160.81,366.93 2160.83,366.92 2160.85,366.9 2160.87,366.89 2160.89,366.88 2160.91,366.86 2160.93,366.85 2160.95,366.84 2160.97,366.83 2160.98,366.82 2161,366.81 2161.02,366.79 2161.03,366.78 2161.05,366.77 2161.06,366.76 2161.08,366.75 2161.09,366.74 2161.6,366.4" fill="none" stroke="#DC143C" stroke-width="1.9" stroke-linecap="butt" stroke-linejoin="round" />
<g fill="#DC143C"><circle cx="1727.4" cy="541.3" r="1.85"/><circle cx="1664" cy="656.4" r="1.85"/><circle cx="1674.9" cy="631.8" r="1.85"/><circle cx="1629.4" cy="628.3" r="1.85"/><circle cx="1635.5" cy="611.5" r="1.85"/><circle cx="1662.4" cy="580" r="1.85"/><circle cx="1660.6" cy="561.3" r="1.85"/><circle cx="1674.5" cy="554.5" r="1.85"/><circle cx="1688.6" cy="548.8" r="1.85"/><circle cx="1697.7" cy="546.5" r="1.85"/><circle cx="1711.4" cy="548.8" r="1.85"/><circle cx="1736.5" cy="544.7" r="1.85"/><circle cx="1746" cy="537.2" r="1.85"/><circle cx="1758.6" cy="532.2" r="1.85"/><circle cx="1775.2" cy="529.9" r="1.85"/><circle cx="1787.3" cy="525.3" r="1.85"/><circle cx="1799.2" cy="520.3" r="1.85"/><circle cx="1807.8" cy="515.8" r="1.85"/><circle cx="1818.5" cy="511.2" r="1.85"/><circle cx="1817.8" cy="519.6" r="1.85"/><circle cx="1822.4" cy="531" r="1.85"/><circle cx="1832.2" cy="525.8" r="1.85"/><circle cx="1842.9" cy="520.1" r="1.85"/><circle cx="1821" cy="545.8" r="1.85"/><circle cx="1831.2" cy="540.8" r="1.85"/><circle cx="1813.5" cy="554" r="1.85"/><circle cx="1802" cy="561" r="1.85"/><circle cx="1799.2" cy="564.1" r="1.85"/><circle cx="1835.6" cy="575.5" r="1.85"/><circle cx="1853.8" cy="573.9" r="1.85"/><circle cx="1864.1" cy="568.6" r="1.85"/><circle cx="1870" cy="563.4" r="1.85"/><circle cx="1877.87" cy="558.08" r="1.85"/><circle cx="1885.53" cy="552.91" r="1.85"/><circle cx="1892.99" cy="547.87" r="1.85"/><circle cx="1900.24" cy="542.97" r="1.85"/><circle cx="1907.3" cy="538.2" r="1.85"/><circle cx="1914.16" cy="533.56" r="1.85"/><circle cx="1920.84" cy="529.05" r="1.85"/><circle cx="1927.34" cy="524.66" r="1.85"/><circle cx="1933.67" cy="520.39" r="1.85"/><circle cx="1939.82" cy="516.23" r="1.85"/><circle cx="1945.81" cy="512.18" r="1.85"/><circle cx="1951.64" cy="508.25" r="1.85"/><circle cx="1957.31" cy="504.42" r="1.85"/><circle cx="1962.82" cy="500.69" r="1.85"/><circle cx="1968.19" cy="497.06" r="1.85"/><circle cx="1973.41" cy="493.54" r="1.85"/><circle cx="1978.49" cy="490.1" r="1.85"/><circle cx="1983.44" cy="486.76" r="1.85"/><circle cx="1988.25" cy="483.51" r="1.85"/><circle cx="1992.93" cy="480.35" r="1.85"/><circle cx="1997.48" cy="477.28" r="1.85"/><circle cx="2001.91" cy="474.28" r="1.85"/><circle cx="2006.22" cy="471.37" r="1.85"/><circle cx="2010.42" cy="468.53" r="1.85"/><circle cx="2014.5" cy="465.78" r="1.85"/><circle cx="2018.47" cy="463.09" r="1.85"/><circle cx="2022.34" cy="460.48" r="1.85"/><circle cx="2026.1" cy="457.94" r="1.85"/><circle cx="2029.76" cy="455.47" r="1.85"/><circle cx="2033.32" cy="453.07" r="1.85"/><circle cx="2036.78" cy="450.73" r="1.85"/><circle cx="2040.15" cy="448.45" r="1.85"/><circle cx="2043.43" cy="446.23" r="1.85"/><circle cx="2046.62" cy="444.08" r="1.85"/><circle cx="2049.72" cy="441.98" r="1.85"/><circle cx="2052.74" cy="439.94" r="1.85"/><circle cx="2055.68" cy="437.96" r="1.85"/><circle cx="2058.54" cy="436.02" r="1.85"/><circle cx="2061.33" cy="434.14" r="1.85"/><circle cx="2064.03" cy="432.31" r="1.85"/><circle cx="2066.67" cy="430.53" r="1.85"/><circle cx="2069.23" cy="428.8" r="1.85"/><circle cx="2071.72" cy="427.12" r="1.85"/><circle cx="2074.15" cy="425.48" r="1.85"/><circle cx="2076.51" cy="423.88" r="1.85"/><circle cx="2078.81" cy="422.33" r="1.85"/><circle cx="2081.05" cy="420.82" r="1.85"/><circle cx="2083.22" cy="419.35" r="1.85"/><circle cx="2085.34" cy="417.92" r="1.85"/><circle cx="2087.4" cy="416.53" r="1.85"/><circle cx="2089.4" cy="415.18" r="1.85"/><circle cx="2091.35" cy="413.86" r="1.85"/><circle cx="2093.25" cy="412.58" r="1.85"/><circle cx="2095.09" cy="411.33" r="1.85"/><circle cx="2096.89" cy="410.12" r="1.85"/><circle cx="2098.63" cy="408.94" r="1.85"/><circle cx="2100.33" cy="407.79" r="1.85"/><circle cx="2101.99" cy="406.67" r="1.85"/><circle cx="2103.6" cy="405.59" r="1.85"/><circle cx="2105.16" cy="404.53" r="1.85"/><circle cx="2106.69" cy="403.5" r="1.85"/><circle cx="2108.17" cy="402.5" r="1.85"/><circle cx="2109.61" cy="401.52" r="1.85"/><circle cx="2111.02" cy="400.57" r="1.85"/><circle cx="2112.38" cy="399.65" r="1.85"/><circle cx="2113.71" cy="398.75" r="1.85"/><circle cx="2115" cy="397.88" r="1.85"/><circle cx="2116.26" cy="397.03" r="1.85"/><circle cx="2117.49" cy="396.2" r="1.85"/><circle cx="2118.68" cy="395.4" r="1.85"/><circle cx="2119.84" cy="394.61" r="1.85"/><circle cx="2120.96" cy="393.85" r="1.85"/><circle cx="2122.06" cy="393.11" r="1.85"/><circle cx="2123.13" cy="392.39" r="1.85"/><circle cx="2124.17" cy="391.69" r="1.85"/><circle cx="2125.18" cy="391.01" r="1.85"/><circle cx="2126.16" cy="390.34" r="1.85"/><circle cx="2127.12" cy="389.7" r="1.85"/><circle cx="2128.05" cy="389.07" r="1.85"/><circle cx="2128.96" cy="388.45" r="1.85"/><circle cx="2129.84" cy="387.86" r="1.85"/><circle cx="2130.69" cy="387.28" r="1.85"/><circle cx="2131.53" cy="386.72" r="1.85"/><circle cx="2132.34" cy="386.17" r="1.85"/><circle cx="2133.13" cy="385.63" r="1.85"/><circle cx="2133.9" cy="385.11" r="1.85"/><circle cx="2134.65" cy="384.61" r="1.85"/><circle cx="2135.37" cy="384.12" r="1.85"/><circle cx="2136.08" cy="383.64" r="1.85"/><circle cx="2136.77" cy="383.17" r="1.85"/><circle cx="2137.44" cy="382.72" r="1.85"/><circle cx="2138.09" cy="382.28" r="1.85"/><circle cx="2138.73" cy="381.85" r="1.85"/><circle cx="2139.35" cy="381.43" r="1.85"/><circle cx="2139.95" cy="381.03" r="1.85"/><circle cx="2140.53" cy="380.63" r="1.85"/><circle cx="2141.1" cy="380.25" r="1.85"/><circle cx="2141.65" cy="379.87" r="1.85"/><circle cx="2142.19" cy="379.51" r="1.85"/><circle cx="2142.72" cy="379.16" r="1.85"/><circle cx="2143.23" cy="378.81" r="1.85"/><circle cx="2143.72" cy="378.48" r="1.85"/><circle cx="2144.21" cy="378.15" r="1.85"/><circle cx="2144.68" cy="377.83" r="1.85"/><circle cx="2145.13" cy="377.53" r="1.85"/><circle cx="2145.58" cy="377.22" r="1.85"/><circle cx="2146.01" cy="376.93" r="1.85"/><circle cx="2146.43" cy="376.65" r="1.85"/><circle cx="2146.84" cy="376.37" r="1.85"/><circle cx="2147.24" cy="376.1" r="1.85"/><circle cx="2147.63" cy="375.84" r="1.85"/><circle cx="2148" cy="375.59" r="1.85"/><circle cx="2148.37" cy="375.34" r="1.85"/><circle cx="2148.73" cy="375.1" r="1.85"/><circle cx="2149.08" cy="374.86" r="1.85"/><circle cx="2149.41" cy="374.63" r="1.85"/><circle cx="2149.74" cy="374.41" r="1.85"/><circle cx="2150.06" cy="374.19" r="1.85"/><circle cx="2150.37" cy="373.98" r="1.85"/><circle cx="2150.68" cy="373.78" r="1.85"/><circle cx="2150.97" cy="373.58" r="1.85"/><circle cx="2151.26" cy="373.39" r="1.85"/><circle cx="2151.54" cy="373.2" r="1.85"/><circle cx="2151.81" cy="373.01" r="1.85"/><circle cx="2152.07" cy="372.84" r="1.85"/><circle cx="2152.33" cy="372.66" r="1.85"/><circle cx="2152.58" cy="372.49" r="1.85"/><circle cx="2152.83" cy="372.33" r="1.85"/><circle cx="2153.06" cy="372.17" r="1.85"/><circle cx="2153.29" cy="372.01" r="1.85"/><circle cx="2153.52" cy="371.86" r="1.85"/><circle cx="2153.74" cy="371.71" r="1.85"/><circle cx="2153.95" cy="371.57" r="1.85"/><circle cx="2154.15" cy="371.43" r="1.85"/><circle cx="2154.36" cy="371.29" r="1.85"/><circle cx="2154.55" cy="371.16" r="1.85"/><circle cx="2154.74" cy="371.03" r="1.85"/><circle cx="2154.93" cy="370.91" r="1.85"/><circle cx="2155.11" cy="370.79" r="1.85"/><circle cx="2155.28" cy="370.67" r="1.85"/><circle cx="2155.45" cy="370.55" r="1.85"/><circle cx="2155.62" cy="370.44" r="1.85"/><circle cx="2155.78" cy="370.33" r="1.85"/><circle cx="2155.94" cy="370.23" r="1.85"/><circle cx="2156.09" cy="370.12" r="1.85"/><circle cx="2156.24" cy="370.02" r="1.85"/><circle cx="2156.38" cy="369.92" r="1.85"/><circle cx="2156.52" cy="369.83" r="1.85"/><circle cx="2156.66" cy="369.74" r="1.85"/><circle cx="2156.79" cy="369.65" r="1.85"/><circle cx="2156.92" cy="369.56" r="1.85"/><circle cx="2157.05" cy="369.47" r="1.85"/><circle cx="2157.17" cy="369.39" r="1.85"/><circle cx="2157.29" cy="369.31" r="1.85"/><circle cx="2157.41" cy="369.23" r="1.85"/><circle cx="2157.52" cy="369.15" r="1.85"/><circle cx="2157.63" cy="369.08" r="1.85"/><circle cx="2157.74" cy="369.01" r="1.85"/><circle cx="2157.84" cy="368.94" r="1.85"/><circle cx="2157.95" cy="368.87" r="1.85"/><circle cx="2158.04" cy="368.8" r="1.85"/><circle cx="2158.14" cy="368.74" r="1.85"/><circle cx="2158.23" cy="368.67" r="1.85"/><circle cx="2158.32" cy="368.61" r="1.85"/><circle cx="2158.41" cy="368.55" r="1.85"/><circle cx="2158.5" cy="368.5" r="1.85"/><circle cx="2158.58" cy="368.44" r="1.85"/><circle cx="2158.66" cy="368.38" r="1.85"/><circle cx="2158.74" cy="368.33" r="1.85"/><circle cx="2158.82" cy="368.28" r="1.85"/><circle cx="2158.9" cy="368.23" r="1.85"/><circle cx="2158.97" cy="368.18" r="1.85"/><circle cx="2159.04" cy="368.13" r="1.85"/><circle cx="2159.11" cy="368.08" r="1.85"/><circle cx="2159.18" cy="368.04" r="1.85"/><circle cx="2159.24" cy="367.99" r="1.85"/><circle cx="2159.31" cy="367.95" r="1.85"/><circle cx="2159.37" cy="367.91" r="1.85"/><circle cx="2159.43" cy="367.87" r="1.85"/><circle cx="2159.49" cy="367.83" r="1.85"/><circle cx="2159.54" cy="367.79" r="1.85"/><circle cx="2159.6" cy="367.75" r="1.85"/><circle cx="2159.65" cy="367.72" r="1.85"/><circle cx="2159.71" cy="367.68" r="1.85"/><circle cx="2159.76" cy="367.65" r="1.85"/><circle cx="2159.81" cy="367.61" r="1.85"/><circle cx="2159.85" cy="367.58" r="1.85"/><circle cx="2159.9" cy="367.55" r="1.85"/><circle cx="2159.95" cy="367.52" r="1.85"/><circle cx="2159.99" cy="367.49" r="1.85"/><circle cx="2160.04" cy="367.46" r="1.85"/><circle cx="2160.08" cy="367.43" r="1.85"/><circle cx="2160.12" cy="367.4" r="1.85"/><circle cx="2160.16" cy="367.37" r="1.85"/><circle cx="2160.2" cy="367.35" r="1.85"/><circle cx="2160.24" cy="367.32" r="1.85"/><circle cx="2160.27" cy="367.3" r="1.85"/><circle cx="2160.31" cy="367.27" r="1.85"/><circle cx="2160.34" cy="367.25" r="1.85"/><circle cx="2160.38" cy="367.23" r="1.85"/><circle cx="2160.41" cy="367.2" r="1.85"/><circle cx="2160.44" cy="367.18" r="1.85"/><circle cx="2160.47" cy="367.16" r="1.85"/><circle cx="2160.5" cy="367.14" r="1.85"/><circle cx="2160.53" cy="367.12" r="1.85"/><circle cx="2160.56" cy="367.1" r="1.85"/><circle cx="2160.59" cy="367.08" r="1.85"/><circle cx="2160.62" cy="367.06" r="1.85"/><circle cx="2160.64" cy="367.05" r="1.85"/><circle cx="2160.67" cy="367.03" r="1.85"/><circle cx="2160.7" cy="367.01" r="1.85"/><circle cx="2160.72" cy="366.99" r="1.85"/><circle cx="2160.74" cy="366.98" r="1.85"/><circle cx="2160.77" cy="366.96" r="1.85"/><circle cx="2160.79" cy="366.95" r="1.85"/><circle cx="2160.81" cy="366.93" r="1.85"/><circle cx="2160.83" cy="366.92" r="1.85"/><circle cx="2160.85" cy="366.9" r="1.85"/><circle cx="2160.87" cy="366.89" r="1.85"/><circle cx="2160.89" cy="366.88" r="1.85"/><circle cx="2160.91" cy="366.86" r="1.85"/><circle cx="2160.93" cy="366.85" r="1.85"/><circle cx="2160.95" cy="366.84" r="1.85"/><circle cx="2160.97" cy="366.83" r="1.85"/><circle cx="2160.98" cy="366.82" r="1.85"/><circle cx="2161" cy="366.81" r="1.85"/><circle cx="2161.02" cy="366.79" r="1.85"/><circle cx="2161.03" cy="366.78" r="1.85"/><circle cx="2161.05" cy="366.77" r="1.85"/><circle cx="2161.06" cy="366.76" r="1.85"/><circle cx="2161.08" cy="366.75" r="1.85"/><circle cx="2161.09" cy="366.74" r="1.85"/><circle cx="2161.6" cy="366.4" r="1.85"/></g>
<polyline points="2027.3,239.6 2049.6,298.8 2145.8,307.7 2040.6,228 1890.4,194.2 1939.2,88.7 1963,128.7 1986.9,164.2 2008.2,193.7 2026.2,217 2040.6,234.5 2053,249.5 2064.7,262.8 2074.3,272.5 2081.6,281.3 2087.3,287.5 2092.7,293.4 2097.4,298.4 2101.5,303.2 2103.7,306.3 2105.9,310 2108.5,313.7 2109.28,315.27 2110.05,316.85 2110.82,318.43 2111.6,320 2112.57,321.67 2113.53,323.33 2114.5,325 2115.53,326.67 2116.57,328.33 2117.6,330 2118.2,331.75 2118.8,333.5 2119.4,335.25 2120,337 2120.42,338.64 2120.84,340.28 2121.26,341.92 2121.68,343.56 2122.1,345.2 2123.07,346.8 2124.03,348.4 2125,350 2125.83,351.7 2126.67,353.4 2127.5,355.1 2128.33,356.73 2129.17,358.37 2130,360 2130.93,361.63 2131.87,363.27 2132.8,364.9 2134.15,366.45 2135.5,368 2137.2,369.1 2138.9,370.2 2140.45,370.85 2142,371.5 2143.85,372 2145.7,372.5 2147.35,372 2149,371.5 2150.75,370.85 2152.5,370.2 2154.25,369.45 2156,368.7 2157.7,367.95 2159.4,367.2 2160.95,366.6 2162.5,366" fill="none" stroke="#9932CC" stroke-width="1.9" stroke-linecap="butt" stroke-linejoin="round" />
<g fill="#9932CC"><circle cx="2049.6" cy="298.8" r="1.85"/><circle cx="2145.8" cy="307.7" r="1.85"/><circle cx="2040.6" cy="228" r="1.85"/><circle cx="1890.4" cy="194.2" r="1.85"/><circle cx="1939.2" cy="88.7" r="1.85"/><circle cx="1963" cy="128.7" r="1.85"/><circle cx="1986.9" cy="164.2" r="1.85"/><circle cx="2008.2" cy="193.7" r="1.85"/><circle cx="2026.2" cy="217" r="1.85"/><circle cx="2040.6" cy="234.5" r="1.85"/><circle cx="2053" cy="249.5" r="1.85"/><circle cx="2064.7" cy="262.8" r="1.85"/><circle cx="2074.3" cy="272.5" r="1.85"/><circle cx="2081.6" cy="281.3" r="1.85"/><circle cx="2087.3" cy="287.5" r="1.85"/><circle cx="2092.7" cy="293.4" r="1.85"/><circle cx="2097.4" cy="298.4" r="1.85"/><circle cx="2101.5" cy="303.2" r="1.85"/><circle cx="2103.7" cy="306.3" r="1.85"/><circle cx="2105.9" cy="310" r="1.85"/><circle cx="2108.5" cy="313.7" r="1.85"/><circle cx="2109.28" cy="315.27" r="1.85"/><circle cx="2110.05" cy="316.85" r="1.85"/><circle cx="2110.82" cy="318.43" r="1.85"/><circle cx="2111.6" cy="320" r="1.85"/><circle cx="2112.57" cy="321.67" r="1.85"/><circle cx="2113.53" cy="323.33" r="1.85"/><circle cx="2114.5" cy="325" r="1.85"/><circle cx="2115.53" cy="326.67" r="1.85"/><circle cx="2116.57" cy="328.33" r="1.85"/><circle cx="2117.6" cy="330" r="1.85"/><circle cx="2118.2" cy="331.75" r="1.85"/><circle cx="2118.8" cy="333.5" r="1.85"/><circle cx="2119.4" cy="335.25" r="1.85"/><circle cx="2120" cy="337" r="1.85"/><circle cx="2120.42" cy="338.64" r="1.85"/><circle cx="2120.84" cy="340.28" r="1.85"/><circle cx="2121.26" cy="341.92" r="1.85"/><circle cx="2121.68" cy="343.56" r="1.85"/><circle cx="2122.1" cy="345.2" r="1.85"/><circle cx="2123.07" cy="346.8" r="1.85"/><circle cx="2124.03" cy="348.4" r="1.85"/><circle cx="2125" cy="350" r="1.85"/><circle cx="2125.83" cy="351.7" r="1.85"/><circle cx="2126.67" cy="353.4" r="1.85"/><circle cx="2127.5" cy="355.1" r="1.85"/><circle cx="2128.33" cy="356.73" r="1.85"/><circle cx="2129.17" cy="358.37" r="1.85"/><circle cx="2130" cy="360" r="1.85"/><circle cx="2130.93" cy="361.63" r="1.85"/><circle cx="2131.87" cy="363.27" r="1.85"/><circle cx="2132.8" cy="364.9" r="1.85"/><circle cx="2134.15" cy="366.45" r="1.85"/><circle cx="2135.5" cy="368" r="1.85"/><circle cx="2137.2" cy="369.1" r="1.85"/><circle cx="2138.9" cy="370.2" r="1.85"/><circle cx="2140.45" cy="370.85" r="1.85"/><circle cx="2142" cy="371.5" r="1.85"/><circle cx="2143.85" cy="372" r="1.85"/><circle cx="2145.7" cy="372.5" r="1.85"/><circle cx="2147.35" cy="372" r="1.85"/><circle cx="2149" cy="371.5" r="1.85"/><circle cx="2150.75" cy="370.85" r="1.85"/><circle cx="2152.5" cy="370.2" r="1.85"/><circle cx="2154.25" cy="369.45" r="1.85"/><circle cx="2156" cy="368.7" r="1.85"/><circle cx="2157.7" cy="367.95" r="1.85"/><circle cx="2159.4" cy="367.2" r="1.85"/><circle cx="2160.95" cy="366.6" r="1.85"/><circle cx="2162.5" cy="366" r="1.85"/></g>
<polyline points="2111.6,320 2114.5,325 2117.6,330 2120,337 2122.1,345.2 2125,350 2127.5,355.1 2130,360 2132.8,364.9 2135.5,368 2138.9,370.2 2142,371.5 2145.7,372.5 2149,371.5 2152.5,370.2 2156,368.7 2159.4,367.2 2162.5,366" fill="none" stroke="#9932CC" stroke-width="4.4" stroke-linecap="round" stroke-linejoin="round" />
</g>
<rect x="1602.7" y="59.9" width="588.4" height="624.45" fill="none" stroke="#000" stroke-width="1.6" stroke-linejoin="miter"/>
<line x1="1725.3" y1="684.35" x2="1725.3" y2="691.35" stroke="#000" stroke-width="1.6"/>
<line x1="1877.9" y1="684.35" x2="1877.9" y2="691.35" stroke="#000" stroke-width="1.6"/>
<line x1="2030.5" y1="684.35" x2="2030.5" y2="691.35" stroke="#000" stroke-width="1.6"/>
<line x1="2183.1" y1="684.35" x2="2183.1" y2="691.35" stroke="#000" stroke-width="1.6"/>
<line x1="1595.7" y1="144.4" x2="1602.7" y2="144.4" stroke="#000" stroke-width="1.6"/>
<line x1="1595.7" y1="369" x2="1602.7" y2="369" stroke="#000" stroke-width="1.6"/>
<line x1="1595.7" y1="593.6" x2="1602.7" y2="593.6" stroke="#000" stroke-width="1.6"/>
<text transform="translate(1722.21,721) scale(0.9669,1)" font-size="30.648" style="" fill="#000">2</text>
<rect x="1712.3" y="712" width="7.4" height="2.3" fill="#000"/>
<text transform="translate(1875.07,720.8) scale(0.9574,1)" font-size="30.524" style="" fill="#000">1</text>
<rect x="1864.9" y="712" width="7.4" height="2.3" fill="#000"/>
<text transform="translate(2021.73,720.7) scale(1.0312,1)" font-size="30.226" style="" fill="#000">0</text>
<text transform="translate(2174.67,720.8) scale(0.9574,1)" font-size="30.524" style="" fill="#000">1</text>
<text transform="translate(1570.57,155.2) scale(0.9574,1)" font-size="30.524" style="" fill="#000">1</text>
<text transform="translate(1570.77,380.1) scale(0.9713,1)" font-size="30.088" style="" fill="#000">1</text>
<rect x="1560.5" y="370.8" width="7.4" height="2.3" fill="#000"/>
<text transform="translate(1571.52,604.5) scale(0.9377,1)" font-size="30.367" style="" fill="#000">3</text>
<rect x="1560.4" y="595.3" width="7.4" height="2.3" fill="#000"/>
<text transform="translate(1714.97,47.36) scale(1.0589,1)" font-size="40.660">Physical</text>
<text transform="translate(1890.31,47.36) scale(1.1189,1)" font-size="40.660">trajectory</text>
<text transform="translate(1869.76,768.37) scale(1.0048,1)" font-size="39.683" style="font-style:italic;" fill="#000">y</text>
<text transform="translate(1892.01,775.6) scale(0.9943,1)" font-size="28.925" style="" fill="#000">1</text>
<text transform="translate(1540.95,392.56) rotate(-90) scale(0.9830,1)" font-size="40.226" style="font-style:italic;">y</text>
<text transform="translate(1548,370.42) rotate(-90) scale(0.9788,1)" font-size="28.930" style="">2</text>
<rect x="1617.0" y="74.2" width="194.1" height="93.8" rx="3.5" fill="#fff" fill-opacity="0.8" stroke="#d5d5d5" stroke-width="1.4"/>
<circle cx="1657.6" cy="97.5" r="11.5" fill="#708090"/>
<circle cx="1657.6" cy="140.4" r="11.5" fill="#000"/>
<text transform="translate(1709.78,107.6) scale(1.1003,1)" font-size="30.367" style="" fill="#000">Start</text>
<text transform="translate(1709.56,149.66) scale(1.1117,1)" font-size="29.592" style="" fill="#000">Target</text>
</svg>
</body></html>
